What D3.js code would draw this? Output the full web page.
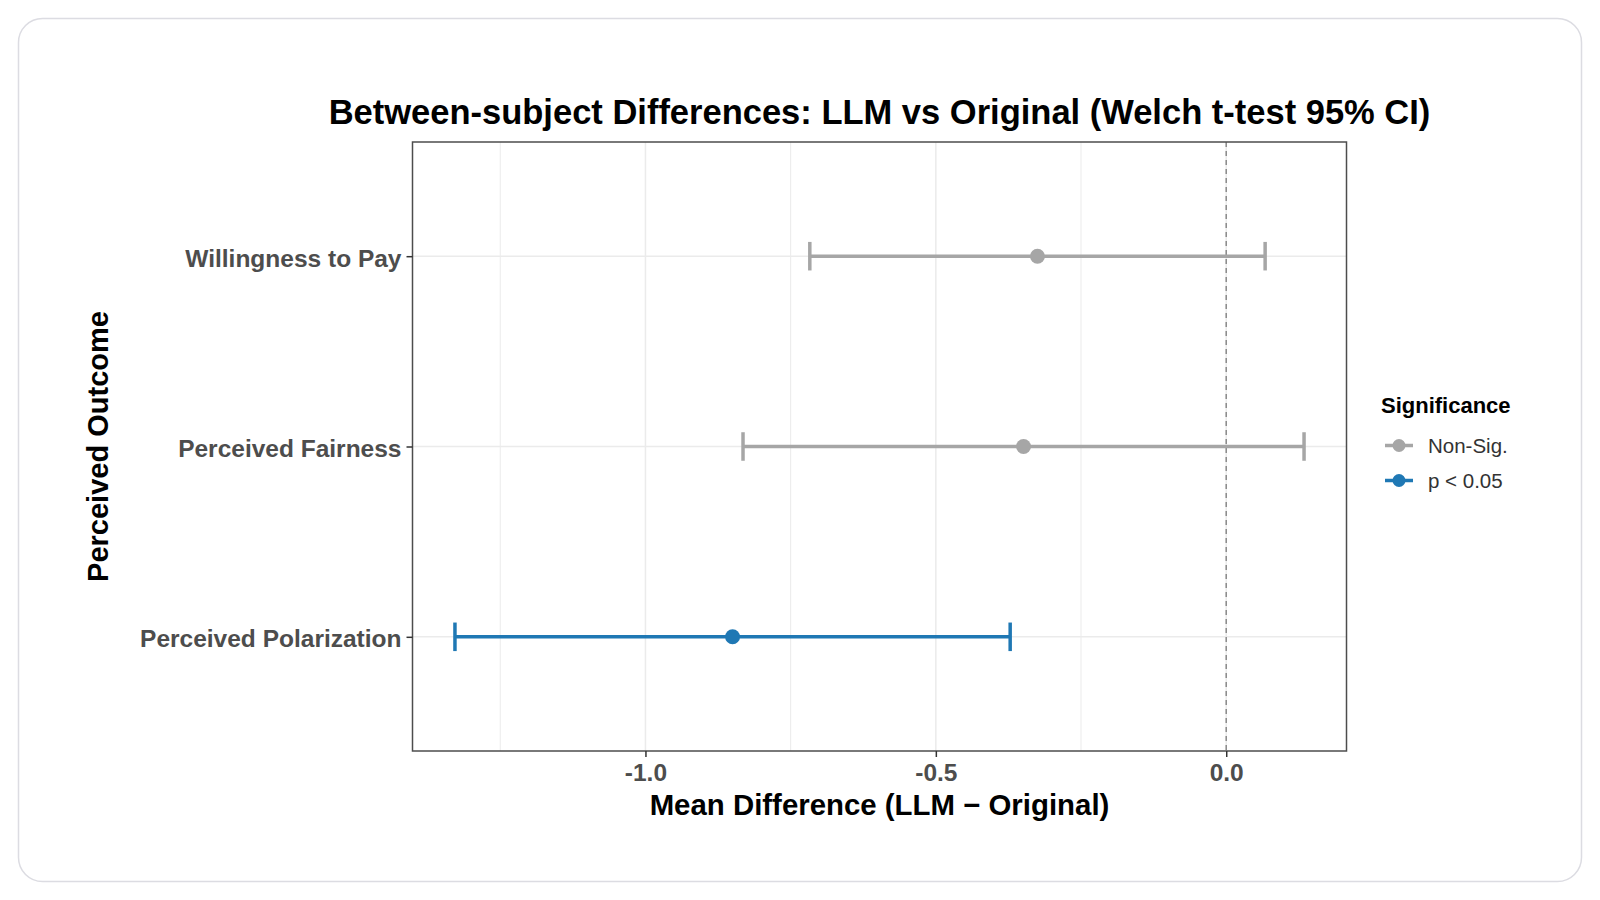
<!DOCTYPE html>
<html>
<head>
<meta charset="utf-8">
<script src="https://cdn.jsdelivr.net/npm/d3@7"></script>
<style>
  html, body { margin: 0; padding: 0; background: #fff; }
  svg { display: block; font-family: "Liberation Sans", Arial, sans-serif; }
</style>
</head>
<body>
<div id="chart"></div>
<script>
// ---- Data ----
const outcomes = ['Willingness to Pay', 'Perceived Fairness', 'Perceived Polarization'];
const meanDiff = [-0.325, -0.349, -0.850];
const ciLow = [-0.717, -0.832, -1.328];
const ciHigh = [0.067, 0.134, -0.372];
const significance = ['Non-Sig.', 'Non-Sig.', 'p < 0.05'];
const sigLevels = ['Non-Sig.', 'p < 0.05'];
const sigColors = ['#a6a6a6', '#1f78b4'];
const xTicks = [-1.0, -0.5, 0.0];
const xMinorTicks = [-1.25, -0.75, -0.25];

const W = 1600, H = 900;
const panel = { left: 412.5, right: 1346.5, top: 142, bottom: 751 };

const svg = d3.select('#chart').append('svg')
  .attr('width', W).attr('height', H);

// ---- Card ----
svg.append('rect')
  .attr('x', 18.5).attr('y', 18.5)
  .attr('width', 1563).attr('height', 863)
  .attr('rx', 24).attr('ry', 24)
  .attr('fill', '#fff')
  .attr('stroke', '#dcdce2')
  .attr('stroke-width', 1.5);

// ---- Scales ----
const lo = d3.min(ciLow), hi = d3.max(ciHigh);
const pad = (hi - lo) * 0.05;
const x = d3.scaleLinear().domain([lo - pad, hi + pad]).range([panel.left, panel.right]);
const y = d3.scalePoint().domain(outcomes).range([panel.top, panel.bottom]).padding(0.6);
const color = d3.scaleOrdinal().domain(sigLevels).range(sigColors);

const rows = outcomes.map((o, i) => ({
  outcome: o, mean: meanDiff[i], low: ciLow[i], high: ciHigh[i], sig: significance[i]
}));

// ---- Grid ----
const grid = svg.append('g').attr('stroke', '#ebebeb');
grid.selectAll('.minor').data(xMinorTicks).join('line')
  .attr('x1', d => x(d)).attr('x2', d => x(d))
  .attr('y1', panel.top).attr('y2', panel.bottom)
  .attr('stroke-width', 1);
grid.selectAll('.major').data(xTicks).join('line')
  .attr('x1', d => x(d)).attr('x2', d => x(d))
  .attr('y1', panel.top).attr('y2', panel.bottom)
  .attr('stroke-width', 1.5);
grid.selectAll('.hmajor').data(outcomes).join('line')
  .attr('x1', panel.left).attr('x2', panel.right)
  .attr('y1', d => y(d)).attr('y2', d => y(d))
  .attr('stroke-width', 1.5);

// ---- Zero reference ----
svg.append('line')
  .attr('x1', x(0)).attr('x2', x(0))
  .attr('y1', panel.top).attr('y2', panel.bottom)
  .attr('stroke', '#8a8a8a')
  .attr('stroke-width', 1.5)
  .attr('stroke-dasharray', '5 4');

// ---- Error bars + points ----
// errorbar width = 0.15 of a category step (total cap height)
const capHalf = y.step() * 0.15 / 2;
const g = svg.append('g');
const bars = g.selectAll('.row').data(rows).join('g')
  .attr('stroke', d => color(d.sig))
  .attr('fill', d => color(d.sig));

bars.append('line')
  .attr('x1', d => x(d.low)).attr('x2', d => x(d.high))
  .attr('y1', d => y(d.outcome)).attr('y2', d => y(d.outcome))
  .attr('stroke-width', 3.5);
bars.append('line')
  .attr('x1', d => x(d.low)).attr('x2', d => x(d.low))
  .attr('y1', d => y(d.outcome) - capHalf).attr('y2', d => y(d.outcome) + capHalf)
  .attr('stroke-width', 3.5);
bars.append('line')
  .attr('x1', d => x(d.high)).attr('x2', d => x(d.high))
  .attr('y1', d => y(d.outcome) - capHalf).attr('y2', d => y(d.outcome) + capHalf)
  .attr('stroke-width', 3.5);
bars.append('circle')
  .attr('cx', d => x(d.mean)).attr('cy', d => y(d.outcome))
  .attr('r', 7.5).attr('stroke', 'none');

// ---- Panel border ----
svg.append('rect')
  .attr('x', panel.left).attr('y', panel.top)
  .attr('width', panel.right - panel.left).attr('height', panel.bottom - panel.top)
  .attr('fill', 'none').attr('stroke', '#4d4d4d').attr('stroke-width', 1.5);

// ---- Axes ----
svg.append('g')
  .attr('transform', `translate(0,${panel.bottom})`)
  .call(d3.axisBottom(x).tickValues(xTicks).tickFormat(d => d.toFixed(1)).tickSize(6).tickPadding(7))
  .call(a => a.select('.domain').remove())
  .call(a => a.selectAll('line').attr('stroke', '#333').attr('stroke-width', 1.5))
  .call(a => a.selectAll('text')
    .attr('font-family', '"Liberation Sans", Arial, sans-serif')
    .attr('font-size', 24.5).attr('font-weight', 'bold').attr('fill', '#4d4d4d'));

svg.append('g')
  .attr('transform', `translate(${panel.left},0)`)
  .call(d3.axisLeft(y).tickSize(6).tickPadding(5))
  .call(a => a.select('.domain').remove())
  .call(a => a.selectAll('line').attr('stroke', '#333').attr('stroke-width', 1.5))
  .call(a => a.selectAll('text')
    .attr('dy', '0.4em')
    .attr('font-family', '"Liberation Sans", Arial, sans-serif')
    .attr('font-size', 24.5).attr('font-weight', 'bold').attr('fill', '#4d4d4d'));

// ---- Titles ----
const cx = (panel.left + panel.right) / 2;
svg.append('text')
  .attr('x', cx).attr('y', 124)
  .attr('text-anchor', 'middle')
  .attr('font-size', 34.5).attr('font-weight', 'bold').attr('fill', '#000')
  .text('Between-subject Differences: LLM vs Original (Welch t-test 95% CI)');

svg.append('text')
  .attr('x', cx).attr('y', 815)
  .attr('text-anchor', 'middle')
  .attr('font-size', 29.4).attr('font-weight', 'bold').attr('fill', '#000')
  .text('Mean Difference (LLM \u2212 Original)');

svg.append('text')
  .attr('transform', `translate(108,${(panel.top + panel.bottom) / 2}) rotate(-90)`)
  .attr('text-anchor', 'middle')
  .attr('font-size', 29).attr('font-weight', 'bold').attr('fill', '#000')
  .text('Perceived Outcome');

// ---- Legend ----
const legend = svg.append('g').attr('transform', 'translate(1381,0)');
legend.append('text')
  .attr('x', 0).attr('y', 413)
  .attr('font-size', 22).attr('font-weight', 'bold').attr('fill', '#000')
  .text('Significance');

const keyY = d3.scalePoint().domain(sigLevels).range([445.5, 480.5]);
const keys = legend.selectAll('.key').data(sigLevels).join('g')
  .attr('transform', d => `translate(0,${keyY(d)})`);
keys.append('line')
  .attr('x1', 4).attr('x2', 32)
  .attr('stroke', d => color(d)).attr('stroke-width', 3.5);
keys.append('circle')
  .attr('cx', 18).attr('r', 6.5).attr('fill', d => color(d));
keys.append('text')
  .attr('x', 47).attr('dy', '0.36em')
  .attr('font-size', 20.5).attr('fill', '#333')
  .text(d => d);
</script>
</body>
</html>
